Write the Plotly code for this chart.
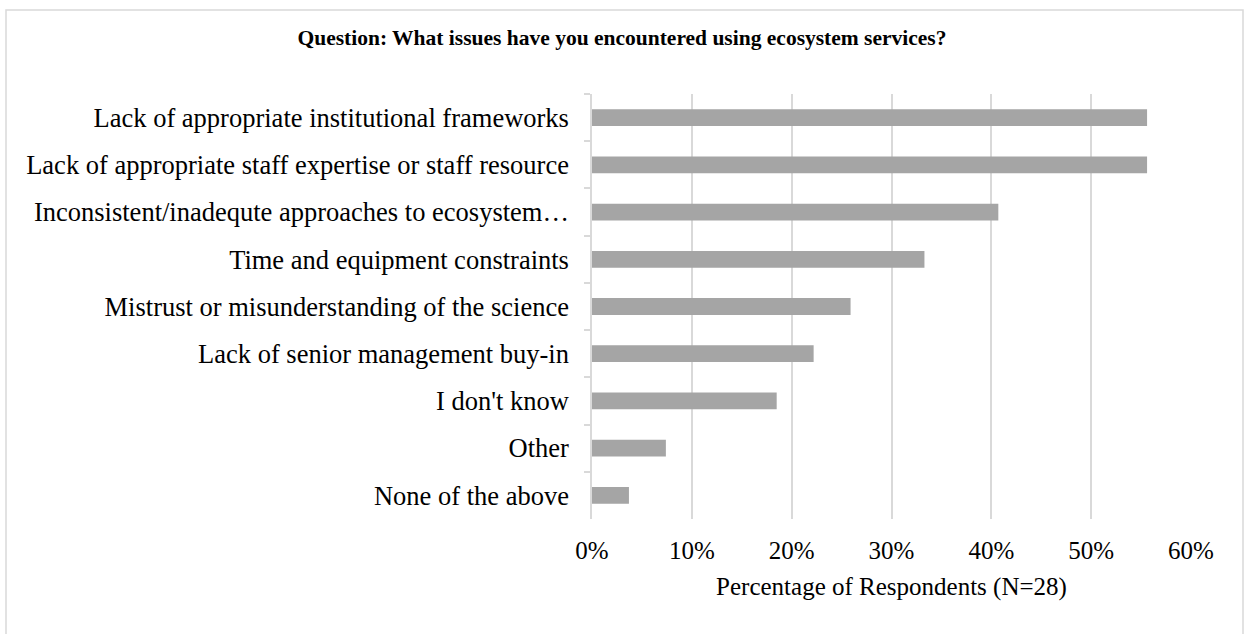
import plotly.graph_objects as go

# Survey responses, top to bottom as they appear on the chart
issues = [
    "Lack of appropriate institutional frameworks",
    "Lack of appropriate staff expertise or staff resource",
    "Inconsistent/inadequte approaches to ecosystem…",
    "Time and equipment constraints",
    "Mistrust or misunderstanding of the science",
    "Lack of senior management buy-in",
    "I don't know",
    "Other",
    "None of the above",
]
percent_respondents = [55.6, 55.6, 40.7, 33.3, 25.9, 22.2, 18.5, 7.4, 3.7]
x_tick_values = [0, 10, 20, 30, 40, 50, 60]
x_tick_labels = ["0%", "10%", "20%", "30%", "40%", "50%", "60%"]

W, H = 1244, 634
L, R, T, B = 592, 53, 94, 115
FONT = "Liberation Serif, Times New Roman, serif"

fig = go.Figure(
    go.Bar(
        x=percent_respondents,
        y=issues,
        orientation="h",
        marker=dict(color="#a5a5a5", line=dict(width=0)),
        width=0.355,
        hoverinfo="x+y",
    )
)

# outer chart border, given in pixels and converted to paper units
pw, ph = W - L - R, H - T - B
def px_x(v):
    return (v - L) / pw
def px_y(v):
    return 1 - (v - T) / ph

fig.add_shape(
    type="rect", xref="paper", yref="paper",
    x0=px_x(6), x1=px_x(1243), y0=px_y(640), y1=px_y(10),
    line=dict(color="#d9d9d9", width=1.5), fillcolor="rgba(0,0,0,0)",
    layer="below",
)

fig.update_layout(
    width=W, height=H,
    margin=dict(l=L, r=R, t=T, b=B, pad=0),
    paper_bgcolor="white", plot_bgcolor="white",
    font=dict(family=FONT, size=26, color="#000000"),
    showlegend=False,
    title=dict(
        text="<b>Question: What issues have you encountered using ecosystem services?</b>",
        font=dict(family=FONT, size=21.5, color="#000000"),
        x=0.5, xanchor="center",
        y=1 - 37 / H, yanchor="middle", yref="container",
    ),
    xaxis=dict(
        range=[0, 60], tickvals=x_tick_values, ticktext=x_tick_labels,
        showgrid=True, gridcolor="#d9d9d9", gridwidth=1.5,
        zeroline=False, showline=False, ticks="",
        ticklabelstandoff=14,
        tickfont=dict(size=25),
        title=dict(text="Percentage of Respondents (N=28)", font=dict(size=25), standoff=14),
    ),
    yaxis=dict(
        categoryorder="array", categoryarray=issues, autorange="reversed",
        showline=True, linecolor="#d9d9d9", linewidth=1.5,
        ticks="outside", ticklen=6, tickcolor="#d9d9d9", tickwidth=1.5,
        tickson="boundaries", showgrid=False,
        ticklabelstandoff=16,
        tickfont=dict(size=26.5),
    ),
    bargap=0.645,
)

fig.write_html("out.html")
